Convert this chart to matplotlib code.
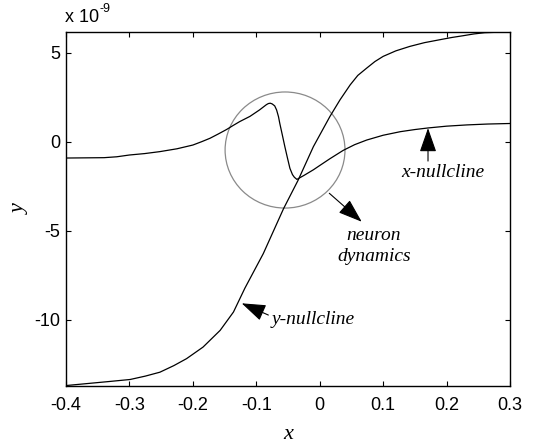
import matplotlib
matplotlib.use("Agg")
import matplotlib.pyplot as plt
from matplotlib.patches import Ellipse

# ==== Werte (y in Einheiten von 1e-9) ====

x_null_x = [-0.400, -0.370, -0.340, -0.320, -0.300, -0.276, -0.252, -0.225, -0.200,
            -0.186, -0.173, -0.160, -0.147, -0.136, -0.126, -0.110, -0.095, -0.084,
            -0.081, -0.078, -0.075, -0.071, -0.068, -0.065, -0.063, -0.059, -0.055,
            -0.051, -0.047, -0.043, -0.040, -0.036, -0.025, -0.010, 0.000, 0.016,
            0.037, 0.055, 0.074, 0.100, 0.127, 0.150, 0.171, 0.200, 0.232,
            0.265, 0.300]
x_null_y = [-0.92, -0.91, -0.90, -0.85, -0.75, -0.67, -0.56, -0.40, -0.19,
            0.00, 0.19, 0.43, 0.68, 0.92, 1.13, 1.42, 1.78, 2.08,
            2.14, 2.16, 2.12, 2.01, 1.78, 1.40, 1.03, 0.38, -0.28,
            -0.90, -1.50, -1.85, -2.00, -2.12, -1.90, -1.58, -1.34, -0.96,
            -0.49, -0.17, 0.09, 0.36, 0.56, 0.68, 0.77, 0.87, 0.94,
            0.99, 1.02]

y_null_x = [-0.400, -0.370, -0.331, -0.299, -0.275, -0.252, -0.230, -0.210, -0.184,
            -0.157, -0.136, -0.118, -0.089, -0.057, -0.034, -0.010, 0.016, 0.032,
            0.048, 0.060, 0.074, 0.087, 0.100, 0.120, 0.142, 0.165, 0.190,
            0.208, 0.226, 0.243, 0.260, 0.300]
y_null_y = [-13.70, -13.60, -13.47, -13.36, -13.17, -12.95, -12.58, -12.19, -11.54,
            -10.60, -9.57, -8.23, -6.29, -3.76, -2.16, -0.28, 1.41, 2.35,
            3.19, 3.72, 4.13, 4.50, 4.79, 5.10, 5.35, 5.56, 5.73,
            5.85, 5.95, 6.05, 6.12, 6.17]

x_ticks = [-0.4, -0.3, -0.2, -0.1, 0, 0.1, 0.2, 0.3]
x_tick_labels = ["-0.4", "-0.3", "-0.2", "-0.1", "0", "0.1", "0.2", "0.3"]
y_ticks = [-10, -5, 0, 5]
y_tick_labels = ["-10", "-5", "0", "5"]

# ==== Kreis um den Schnittpunkt ====
CIRCLE_CENTER = (-0.0547, -0.47)
CIRCLE_W = 0.189
CIRCLE_H = 6.52

SANS = "Liberation Sans"
SERIF = "Liberation Serif"

fig = plt.figure(figsize=(5.42, 4.48), dpi=100)
ax = fig.add_axes([0.1218, 0.139, 0.8192, 0.790])

ax.plot(x_null_x, x_null_y, color="black", lw=0.9)
ax.plot(y_null_x, y_null_y, color="black", lw=0.9)

circle = Ellipse(CIRCLE_CENTER, CIRCLE_W, CIRCLE_H, fill=False,
                 edgecolor="#8a8a8a", lw=0.9)
ax.add_patch(circle)

ax.set_xlim(-0.4, 0.3)
ax.set_ylim(-13.71, 6.17)
ax.set_xticks(x_ticks)
ax.set_xticklabels(x_tick_labels, fontfamily=SANS, fontsize=13)
ax.set_yticks(y_ticks)
ax.set_yticklabels(y_tick_labels, fontfamily=SANS, fontsize=13)
ax.tick_params(axis="both", direction="in", length=3.5, width=0.8,
               top=True, right=True)
ax.tick_params(axis="x", pad=8)
ax.tick_params(axis="y", pad=4)
for sp in ax.spines.values():
    sp.set_linewidth(1.0)

ax.set_xlabel("x", fontfamily=SERIF, fontstyle="italic", fontsize=16, labelpad=8)
ax.set_ylabel("y", fontfamily=SERIF, fontstyle="italic", fontsize=16, labelpad=3)

# ==== Exponent oben links ====
fig.text(0.120, 0.9516, "x 10", fontfamily=SANS, fontsize=13, va="baseline")
fig.text(0.1845, 0.973, "-9", fontfamily=SANS, fontsize=9, va="baseline")

# ==== Beschriftungen mit Pfeilen ====
arrow = dict(arrowstyle="-|>,head_length=1.0,head_width=0.35", color="black",
             lw=0.8, shrinkA=0, shrinkB=0, mutation_scale=15)
txt = dict(fontfamily=SERIF, fontstyle="italic", fontsize=14)

ax.annotate("", xy=(0.1707, 0.76), xytext=(0.1707, -1.09), arrowprops=arrow)
ax.text(0.1944, -1.71, "x-nullcline", ha="center", va="center", **txt)

ax.annotate("", xy=(0.0662, -4.50), xytext=(0.0151, -2.90), arrowprops=arrow)
ax.text(0.0856, -5.85, "neuron\ndynamics", ha="center", va="center",
        multialignment="center", linespacing=1.3, **txt)

ax.annotate("", xy=(-0.123, -9.08), xytext=(-0.081, -9.74), arrowprops=arrow)
ax.text(-0.0757, -9.98, "y-nullcline", ha="left", va="center", **txt)

fig.savefig("out.png", dpi=100)
plt.close(fig)
